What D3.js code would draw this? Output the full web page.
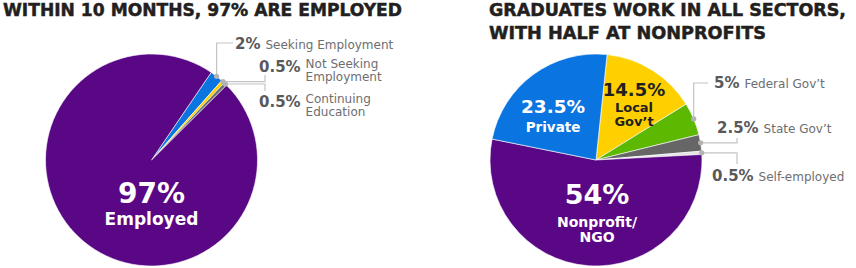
<!DOCTYPE html>
<html>
<head>
<meta charset="utf-8">
<script src="https://cdn.jsdelivr.net/npm/d3@7"></script>
<style>
  body { margin: 0; background: #fff; }
  svg { display: block; }
  text { font-family: "DejaVu Sans", sans-serif; }
</style>
</head>
<body>
<svg id="chart"></svg>
<script>
// left pie: status 10 months after graduation
var statusCats = ["Seeking Employment", "Not Seeking Employment", "Continuing Education", "Employed"];
var statusVals = [2, 0.5, 0.5, 97];
var statusLabels = ["2%", "0.5%", "0.5%", "97%"];
var statusLines = [["Seeking Employment"], ["Not Seeking", "Employment"], ["Continuing", "Education"], ["Employed"]];

// right pie: sector of employment
var sectorCats = ["Local Gov't", "Federal Gov't", "State Gov't", "Self-employed", "Nonprofit/NGO", "Private"];
var sectorVals = [14.5, 5, 2.5, 0.5, 54, 23.5];
var sectorLabels = ["14.5%", "5%", "2.5%", "0.5%", "54%", "23.5%"];
var sectorLines = [["Local", "Gov’t"], ["Federal Gov’t"], ["State Gov’t"], ["Self-employed"], ["Nonprofit/", "NGO"], ["Private"]];

var screen = {width: 856, height: 268}
var R = 106

var colours = {
  "Seeking Employment": "#0a75e0",
  "Not Seeking Employment": "#ffd000",
  "Continuing Education": "#6b6b6b",
  "Employed": "#590785",
  "Local Gov't": "#ffd000",
  "Federal Gov't": "#5cb800",
  "State Gov't": "#666666",
  "Self-employed": "#e3e3e3",
  "Nonprofit/NGO": "#590785",
  "Private": "#0a75e0"
}

var svg = d3.select("#chart")
  .attr("width", screen.width)
  .attr("height", screen.height)

var deg = Math.PI / 180

// titles
var title = function(lines, x, widths)
{
  lines.forEach(function(t, i)
  {
    svg.append("text")
      .attr("x", x).attr("y", 16 + i * 23)
      .attr("font-size", 17.5).attr("font-weight", "bold")
      .attr("fill", "#231f20")
      .attr("stroke", "#231f20").attr("stroke-width", 0.5)
      .attr("textLength", widths[i])
      .attr("lengthAdjust", "spacingAndGlyphs")
      .text(t)
  })
}
title(["WITHIN 10 MONTHS, 97% ARE EMPLOYED"], 3, [399])
title(["GRADUATES WORK IN ALL SECTORS,", "WITH HALF AT NONPROFITS"], 489, [357, 277])

var drawPie = function(cats, vals, cx, cy, start)
{
  var pie = d3.pie().sort(null).value(function(d) { return d.v })
    .startAngle(start * deg).endAngle(start * deg + 2 * Math.PI)
  var arcs = pie(cats.map(function(c, i) { return {c: c, v: vals[i], i: i} }))
  var arc = d3.arc().innerRadius(0).outerRadius(R)
  var g = svg.append("g").attr("transform", "translate(" + cx + "," + cy + ")")
  g.selectAll("path")
    .data(arcs)
    .enter()
    .append("path")
    .attr("d", arc)
    .attr("fill", function(d) { return colours[d.data.c] })
    .attr("stroke", "#fff")
    .attr("stroke-width", 0.6)
  return {g: g, arcs: arcs}
}

// big label inside a slice
var inside = function(g, x, y, pct, lines, pctSize, size, gap, colour)
{
  g.append("text").attr("x", x).attr("y", y)
    .attr("text-anchor", "middle").attr("font-weight", "bold")
    .attr("font-size", pctSize).attr("fill", colour).text(pct)
  lines.forEach(function(t, i)
  {
    g.append("text").attr("x", x).attr("y", y + gap[0] + i * gap[1])
      .attr("text-anchor", "middle").attr("font-weight", "bold")
      .attr("font-size", size).attr("fill", colour).text(t)
  })
}

// outside label with an elbow leader
var callout = function(g, d, c, pct, lines)
{
  var a = (d.startAngle + d.endAngle) / 2
  var dx = Math.sin(a) * R, dy = -Math.cos(a) * R
  var pts
  if (c.up) pts = [[dx, dy], [dx, c.endY], [c.endX, c.endY]]
  else pts = [[dx, dy], [c.endX, dy], [c.endX, c.endY]]
  g.append("path")
    .attr("d", d3.line()(pts))
    .attr("fill", "none").attr("stroke", "#c4c4c4").attr("stroke-width", 1.2)
  g.append("circle").attr("cx", dx).attr("cy", dy).attr("r", 2.6).attr("fill", "#b3b3b3")
  var p = g.append("text").attr("x", c.x).attr("y", c.y)
    .attr("font-weight", "bold").attr("font-size", 15).attr("fill", "#58595b")
    .text(pct)
  var tx = c.x + p.node().getComputedTextLength() + 5
  var off = lines.length > 1 ? -4.5 : 0
  lines.forEach(function(t, i)
  {
    g.append("text").attr("x", tx).attr("y", c.y + off + i * 13.5)
      .attr("font-size", 12).attr("fill", "#6d6e71").text(t)
  })
}

// left pie
var cxL = 151.5, cyL = 160
var left = drawPie(statusCats, statusVals, cxL, cyL, 34.3)
var leftCallouts = [
  {up: true, endX: 233 - cxL, endY: 43 - cyL, x: 235 - cxL, y: 49 - cyL},
  {up: false, endX: 265 - cxL, endY: 75 - cyL, x: 259 - cxL, y: 72 - cyL},
  {up: false, endX: 265 - cxL, endY: 91 - cyL, x: 259 - cxL, y: 107 - cyL}
]
leftCallouts.forEach(function(c, i)
{
  callout(left.g, left.arcs[i], c, statusLabels[i], statusLines[i])
})
inside(left.g, 0, 203 - cyL, statusLabels[3], statusLines[3], 28, 17, [22, 0], "#fff")

// right pie
var cxR = 596, cyR = 160
var right = drawPie(sectorCats, sectorVals, cxR, cyR, 6)
var rightCallouts = {
  1: {up: true, endX: 708 - cxR, endY: 83 - cyR, x: 714 - cxR, y: 88 - cyR},
  2: {up: false, endX: 737 - cxR, endY: 138 - cyR, x: 717 - cxR, y: 133 - cyR},
  3: {up: false, endX: 737 - cxR, endY: 164 - cyR, x: 712 - cxR, y: 181 - cyR}
}
Object.keys(rightCallouts).forEach(function(k)
{
  var i = +k
  callout(right.g, right.arcs[i], rightCallouts[k], sectorLabels[i], sectorLines[i])
})
inside(right.g, 634 - cxR, 96 - cyR, sectorLabels[0], sectorLines[0], 18, 13, [15.5, 14], "#231f20")
inside(right.g, 597 - cxR, 204 - cyR, sectorLabels[4], sectorLines[4], 27, 14, [23, 15], "#fff")
inside(right.g, 553 - cxR, 113 - cyR, sectorLabels[5], sectorLines[5], 18.5, 13.5, [18.5, 0], "#fff")
</script>
</body>
</html>
